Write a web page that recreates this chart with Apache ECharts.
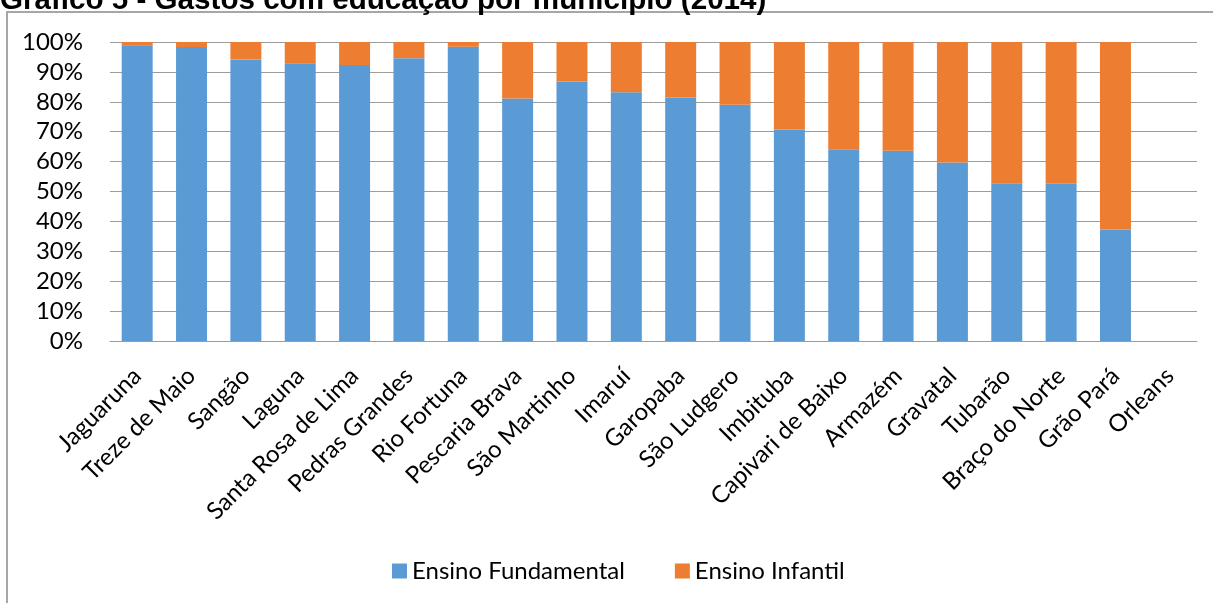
<!DOCTYPE html>
<html>
<head>
<meta charset="utf-8">
<title>Gastos com educação por município (2014)</title>
<script src="https://cdn.jsdelivr.net/npm/echarts@6/dist/echarts.min.js"></script>
<style>
  html, body { margin: 0; padding: 0; background: #fff; }
  #chart { width: 1213px; height: 603px; }
</style>
</head>
<body>
<div id="chart"></div>
<script>
// Municípios (ordem do gráfico)
const municipios = [
  'Jaguaruna', 'Treze de Maio', 'Sangão', 'Laguna', 'Santa Rosa de Lima',
  'Pedras Grandes', 'Rio Fortuna', 'Pescaria Brava', 'São Martinho', 'Imaruí',
  'Garopaba', 'São Ludgero', 'Imbituba', 'Capivari de Baixo', 'Armazém',
  'Gravatal', 'Tubarão', 'Braço do Norte', 'Grão Pará', 'Orleans'
];

// Participação (%) de cada nível de ensino nos gastos
const ensinoFundamental = [
  98.7, 98.3, 94.1, 92.7, 92.3,
  94.6, 98.4, 81.1, 86.8, 83.2,
  81.4, 79.0, 70.7, 64.1, 63.6,
  59.7, 52.8, 52.6, 37.3, null
];
const ensinoInfantil = [
  1.3, 1.7, 5.9, 7.3, 7.7,
  5.4, 1.6, 18.9, 13.2, 16.8,
  18.6, 21.0, 29.3, 35.9, 36.4,
  40.3, 47.2, 47.4, 62.7, null
];

const tituloGrafico = 'Gráfico 5 - Gastos com educação por município (2014)';

const FONT = 'Lato, "Open Sans", sans-serif';
const GRID_COLOR = '#9c9c9c';

const chart = echarts.init(document.getElementById('chart'), null, { renderer: 'canvas' });

chart.setOption({
  animation: false,
  backgroundColor: '#ffffff',
  graphic: [
    {
      type: 'rect',
      silent: true,
      shape: { x: 7, y: 12, width: 1400, height: 800 },
      style: { fill: 'none', stroke: '#a6a6a6', lineWidth: 2 }
    },
    {
      type: 'text',
      silent: true,
      left: 0,
      top: -14,
      style: {
        text: tituloGrafico,
        font: 'bold 29.6px "Liberation Sans", Arial, sans-serif',
        fill: '#000000'
      }
    }
  ],
  legend: {
    left: 387,
    top: 554,
    itemWidth: 15,
    itemHeight: 15,
    itemGap: 50,
    icon: 'rect',
    textStyle: { fontFamily: FONT, fontSize: 24, color: '#000000' },
    data: ['Ensino Fundamental', 'Ensino Infantil']
  },
  grid: {
    left: 110,
    right: 16,
    top: 42,
    bottom: 262,
    containLabel: false
  },
  xAxis: {
    type: 'category',
    data: municipios,
    axisLine: { show: true, lineStyle: { color: GRID_COLOR, width: 1 } },
    axisTick: { show: false },
    axisLabel: {
      interval: 0,
      rotate: 45,
      margin: 31,
      fontFamily: FONT,
      fontSize: 24,
      color: '#000000'
    }
  },
  yAxis: {
    type: 'value',
    min: 0,
    max: 100,
    interval: 10,
    axisLine: { show: false },
    axisTick: { show: false },
    splitLine: { show: true, lineStyle: { color: GRID_COLOR, width: 1 } },
    axisLabel: {
      margin: 27,
      fontFamily: FONT,
      fontSize: 24,
      color: '#000000',
      formatter: '{value}%'
    }
  },
  series: [
    {
      name: 'Ensino Fundamental',
      type: 'bar',
      stack: 'total',
      barWidth: '57%',
      data: ensinoFundamental,
      itemStyle: { color: '#5b9bd5' }
    },
    {
      name: 'Ensino Infantil',
      type: 'bar',
      stack: 'total',
      barWidth: '57%',
      data: ensinoInfantil,
      itemStyle: { color: '#ed7d31' }
    }
  ]
});
</script>
</body>
</html>
